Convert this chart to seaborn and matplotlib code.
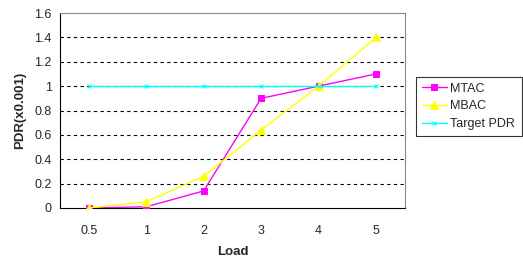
import matplotlib
matplotlib.use("Agg")
import matplotlib.pyplot as plt
import seaborn as sns
import pandas as pd

loads = ["0.5", "1", "2", "3", "4", "5"]
mtac = [0.0, 0.01, 0.14, 0.90, 1.00, 1.10]
mbac = [0.0, 0.05, 0.26, 0.64, 1.00, 1.40]
target = [1.0, 1.0, 1.0, 1.0, 1.0, 1.0]

sns.set_style("white")
plt.rcParams['font.family'] = ['Liberation Sans', 'DejaVu Sans']

rows = []
for name, vals in [("MTAC", mtac), ("MBAC", mbac), ("Target PDR", target)]:
    for i, v in enumerate(vals):
        rows.append({"pos": i, "Load": loads[i], "PDR": v, "series": name})
df = pd.DataFrame(rows)

fig = plt.figure(figsize=(5.23, 2.60), dpi=100)
ax = fig.add_axes([0.1147, 0.2, 0.774 - 0.1147, 0.75])

palette = {"MTAC": "#FF00FF", "MBAC": "#FFFF00", "Target PDR": "#00FFFF"}
markers = {"MTAC": "s", "MBAC": "^", "Target PDR": "x"}
sizes = {"MTAC": 4.5, "MBAC": 5.5, "Target PDR": 3.5}

for name in ["MTAC", "MBAC", "Target PDR"]:
    sub = df[df.series == name]
    sns.lineplot(data=sub, x="pos", y="PDR", ax=ax, color=palette[name],
                 marker=markers[name], markersize=sizes[name],
                 markeredgecolor=palette[name], linewidth=1.0, label=name,
                 zorder=3)

ax.set_xlim(-0.5, 5.5)
ax.set_ylim(0, 1.6)
ax.set_yticks([0, 0.2, 0.4, 0.6, 0.8, 1, 1.2, 1.4, 1.6])
ax.set_yticklabels(["0", "0.2", "0.4", "0.6", "0.8", "1", "1.2", "1.4", "1.6"], fontsize=9)
ax.set_xticks(range(len(loads)))
ax.set_xticklabels(loads, fontsize=9)
ax.set_xticks([i - 0.5 for i in range(len(loads) + 1)], minor=True)
ax.tick_params(axis="x", which="major", length=0, pad=12)
ax.tick_params(axis="x", which="minor", length=4, width=0.8, color="black", direction="out")
ax.tick_params(axis="y", which="major", length=4, width=0.8, color="black", direction="out", pad=2)

for y in [0.2, 0.4, 0.6, 0.8, 1.0, 1.2, 1.4]:
    ax.axhline(y, color="black", linestyle=(0, (3, 3)), linewidth=0.8, zorder=1)

ax.spines["left"].set_color("black")
ax.spines["bottom"].set_color("black")
ax.spines["top"].set_color("#888888")
ax.spines["right"].set_color("#888888")
for s in ax.spines.values():
    s.set_linewidth(0.8)

ax.set_xlabel("Load", fontsize=9.5, fontweight="bold", labelpad=7)
ax.set_ylabel("PDR(x0.001)", fontsize=9.5, fontweight="bold", labelpad=6)

leg = ax.legend(loc="upper left", bbox_to_anchor=(416 / 523, 1 - 142 / 260, 106 / 523, 65 / 260),
                bbox_transform=fig.transFigure, mode="expand", frameon=True, fontsize=9,
                handlelength=2.0, borderaxespad=0, fancybox=False, labelspacing=0.45,
                borderpad=0.45, handletextpad=0.25)
leg.get_frame().set_edgecolor("black")
leg.get_frame().set_linewidth(0.8)

fig.savefig("out.png", dpi=100)
